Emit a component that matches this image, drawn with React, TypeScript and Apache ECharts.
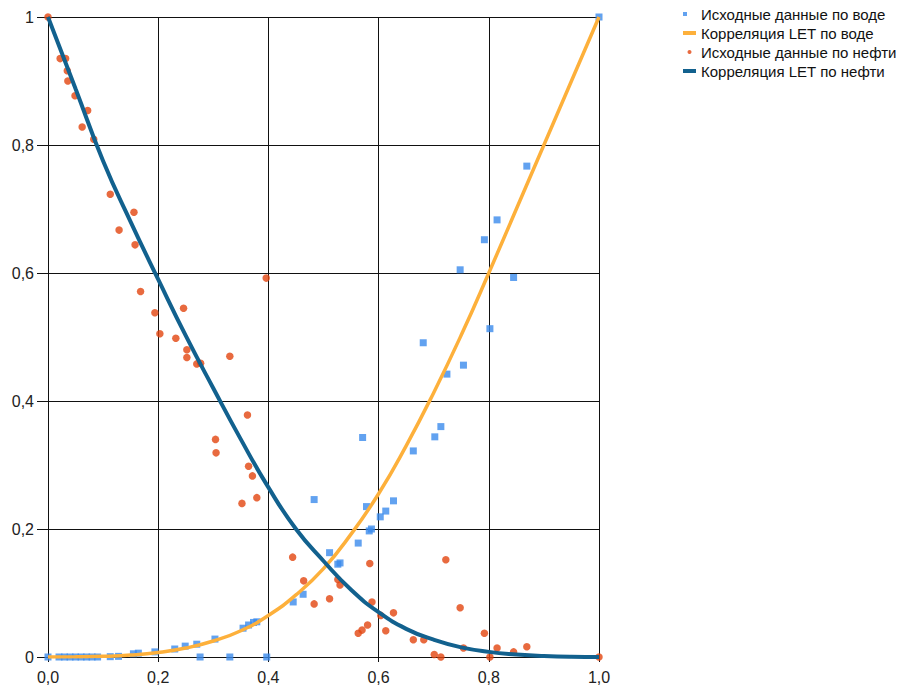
import React, { useEffect, useRef } from "react";
import * as echarts from "echarts";

// Raw water data (Sw, Krw)
const waterSw = [0.0, 0.02, 0.03, 0.04, 0.05, 0.06, 0.07, 0.08, 0.09, 0.113, 0.128, 0.155, 0.164, 0.194, 0.23, 0.249, 0.27, 0.276, 0.303, 0.33, 0.354, 0.364, 0.373, 0.379, 0.397, 0.445, 0.463, 0.483, 0.511, 0.526, 0.53, 0.563, 0.571, 0.578, 0.583, 0.587, 0.603, 0.613, 0.627, 0.663, 0.681, 0.702, 0.713, 0.724, 0.748, 0.754, 0.792, 0.802, 0.815, 0.845, 0.869, 1.0];
const waterKr = [0.0, 0.0, 0.0, 0.0, 0.0, 0.0, 0.0, 0.0, 0.0, 0.0005, 0.001, 0.005, 0.006, 0.008, 0.0125, 0.017, 0.02, 0.0, 0.028, 0.0, 0.045, 0.05, 0.054, 0.055, 0.0, 0.086, 0.098, 0.246, 0.163, 0.145, 0.147, 0.178, 0.343, 0.235, 0.197, 0.2, 0.219, 0.228, 0.244, 0.322, 0.491, 0.344, 0.36, 0.442, 0.605, 0.456, 0.652, 0.513, 0.683, 0.593, 0.767, 1.0];

// Raw oil data (Sw, Kro)
const oilSw = [0.0, 0.022, 0.032, 0.035, 0.036, 0.049, 0.062, 0.072, 0.083, 0.113, 0.129, 0.156, 0.158, 0.168, 0.194, 0.203, 0.232, 0.246, 0.252, 0.252, 0.27, 0.277, 0.304, 0.305, 0.33, 0.352, 0.362, 0.364, 0.371, 0.379, 0.396, 0.444, 0.464, 0.483, 0.511, 0.526, 0.53, 0.563, 0.57, 0.58, 0.584, 0.588, 0.604, 0.613, 0.627, 0.663, 0.682, 0.701, 0.713, 0.722, 0.748, 0.754, 0.792, 0.802, 0.815, 0.845, 0.869, 1.0];
const oilKr = [1.0, 0.935, 0.935, 0.916, 0.9, 0.877, 0.828, 0.854, 0.809, 0.723, 0.667, 0.695, 0.644, 0.571, 0.538, 0.505, 0.498, 0.545, 0.48, 0.468, 0.458, 0.459, 0.34, 0.319, 0.47, 0.24, 0.378, 0.298, 0.283, 0.249, 0.592, 0.156, 0.119, 0.083, 0.091, 0.121, 0.1125, 0.037, 0.042, 0.05, 0.146, 0.086, 0.065, 0.041, 0.069, 0.027, 0.027, 0.004, 0.0, 0.152, 0.077, 0.014, 0.037, 0.0, 0.014, 0.008, 0.016, 0.0];

// LET correlation curves
const curveSw = [0, 0.05, 0.1, 0.15, 0.2, 0.25, 0.3, 0.35, 0.4, 0.45, 0.5, 0.55, 0.6, 0.65, 0.7, 0.75, 0.8, 0.85, 0.9, 0.95, 1.0];
const curveKrw = [0, 0.0002, 0.001, 0.003, 0.007, 0.014, 0.025, 0.041, 0.065, 0.097, 0.138, 0.192, 0.255, 0.33, 0.413, 0.503, 0.6, 0.7, 0.8, 0.9, 1.0];
const curveKro = [1, 0.888, 0.775, 0.68, 0.59, 0.502, 0.42, 0.34, 0.265, 0.2, 0.15, 0.105, 0.07, 0.044, 0.027, 0.015, 0.008, 0.004, 0.0015, 0.0003, 0];

const names = [
  "Исходные данные по воде",
  "Корреляция LET по воде",
  "Исходные данные по нефти",
  "Корреляция LET по нефти",
];

const zip = (a: number[], b: number[]) => a.map((v, i) => [v, b[i]]);

export default function App() {
  const ref = useRef<HTMLDivElement>(null);
  useEffect(() => {
    if (!ref.current) return;
    const chart = echarts.init(ref.current, undefined, { renderer: "svg" });
    const labelFont = { fontFamily: "Liberation Sans, Arial, sans-serif", fontSize: 16, color: "#222" };
    chart.setOption({
      animation: false,
      backgroundColor: "#fff",
      grid: { left: 48, right: 300, top: 17, bottom: 38, containLabel: false },
      legend: {
        orient: "vertical",
        left: 683,
        top: 6,
        padding: 0,
        itemWidth: 13,
        itemHeight: 4,
        itemGap: 3,
        textStyle: { fontFamily: "Liberation Sans, Arial, sans-serif", fontSize: 15, color: "#111", lineHeight: 16 },
        data: [
          { name: names[0], icon: "square" },
          { name: names[1], icon: "rect" },
          { name: names[2], icon: "circle" },
          { name: names[3], icon: "rect" },
        ],
      },
      xAxis: {
        type: "value",
        min: 0,
        max: 1,
        interval: 0.2,
        axisLine: { show: true, onZero: false, lineStyle: { color: "#111", width: 1 } },
        axisTick: { show: true, length: 5, lineStyle: { color: "#111" } },
        splitLine: { show: true, lineStyle: { color: "#111", width: 1 } },
        axisLabel: {
          ...labelFont,
          margin: 12,
          formatter: (v: number) => v.toFixed(1).replace(".", ","),
        },
      },
      yAxis: {
        type: "value",
        min: 0,
        max: 1,
        interval: 0.2,
        axisLine: { show: true, onZero: false, lineStyle: { color: "#111", width: 1 } },
        axisTick: { show: true, length: 11, lineStyle: { color: "#111" } },
        splitLine: { show: true, lineStyle: { color: "#111", width: 1 } },
        axisLabel: {
          ...labelFont,
          margin: 14,
          formatter: (v: number) => (Math.round(v * 10) / 10).toString().replace(".", ","),
        },
      },
      series: [
        {
          name: names[0],
          type: "scatter",
          symbol: "rect",
          symbolSize: 7,
          itemStyle: { color: "#3b8bec" },
          data: zip(waterSw, waterKr),
          z: 2,
        },
        {
          name: names[1],
          type: "line",
          smooth: true,
          showSymbol: false,
          symbol: "none",
          lineStyle: { color: "#fdb03b", width: 3.5 },
          itemStyle: { color: "#fdb03b" },
          data: zip(curveSw, curveKrw),
          z: 3,
        },
        {
          name: names[2],
          type: "scatter",
          symbol: "circle",
          symbolSize: 7.5,
          itemStyle: { color: "#e2450f" },
          data: zip(oilSw, oilKr),
          z: 4,
        },
        {
          name: names[3],
          type: "line",
          smooth: true,
          showSymbol: false,
          symbol: "none",
          lineStyle: { color: "#12618e", width: 4 },
          itemStyle: { color: "#12618e" },
          data: zip(curveSw, curveKro),
          z: 5,
        },
      ],
    });
    return () => chart.dispose();
  }, []);
  return <div ref={ref} style={{ width: 899, height: 695, position: "absolute", left: 0, top: 0 }} />;
}
